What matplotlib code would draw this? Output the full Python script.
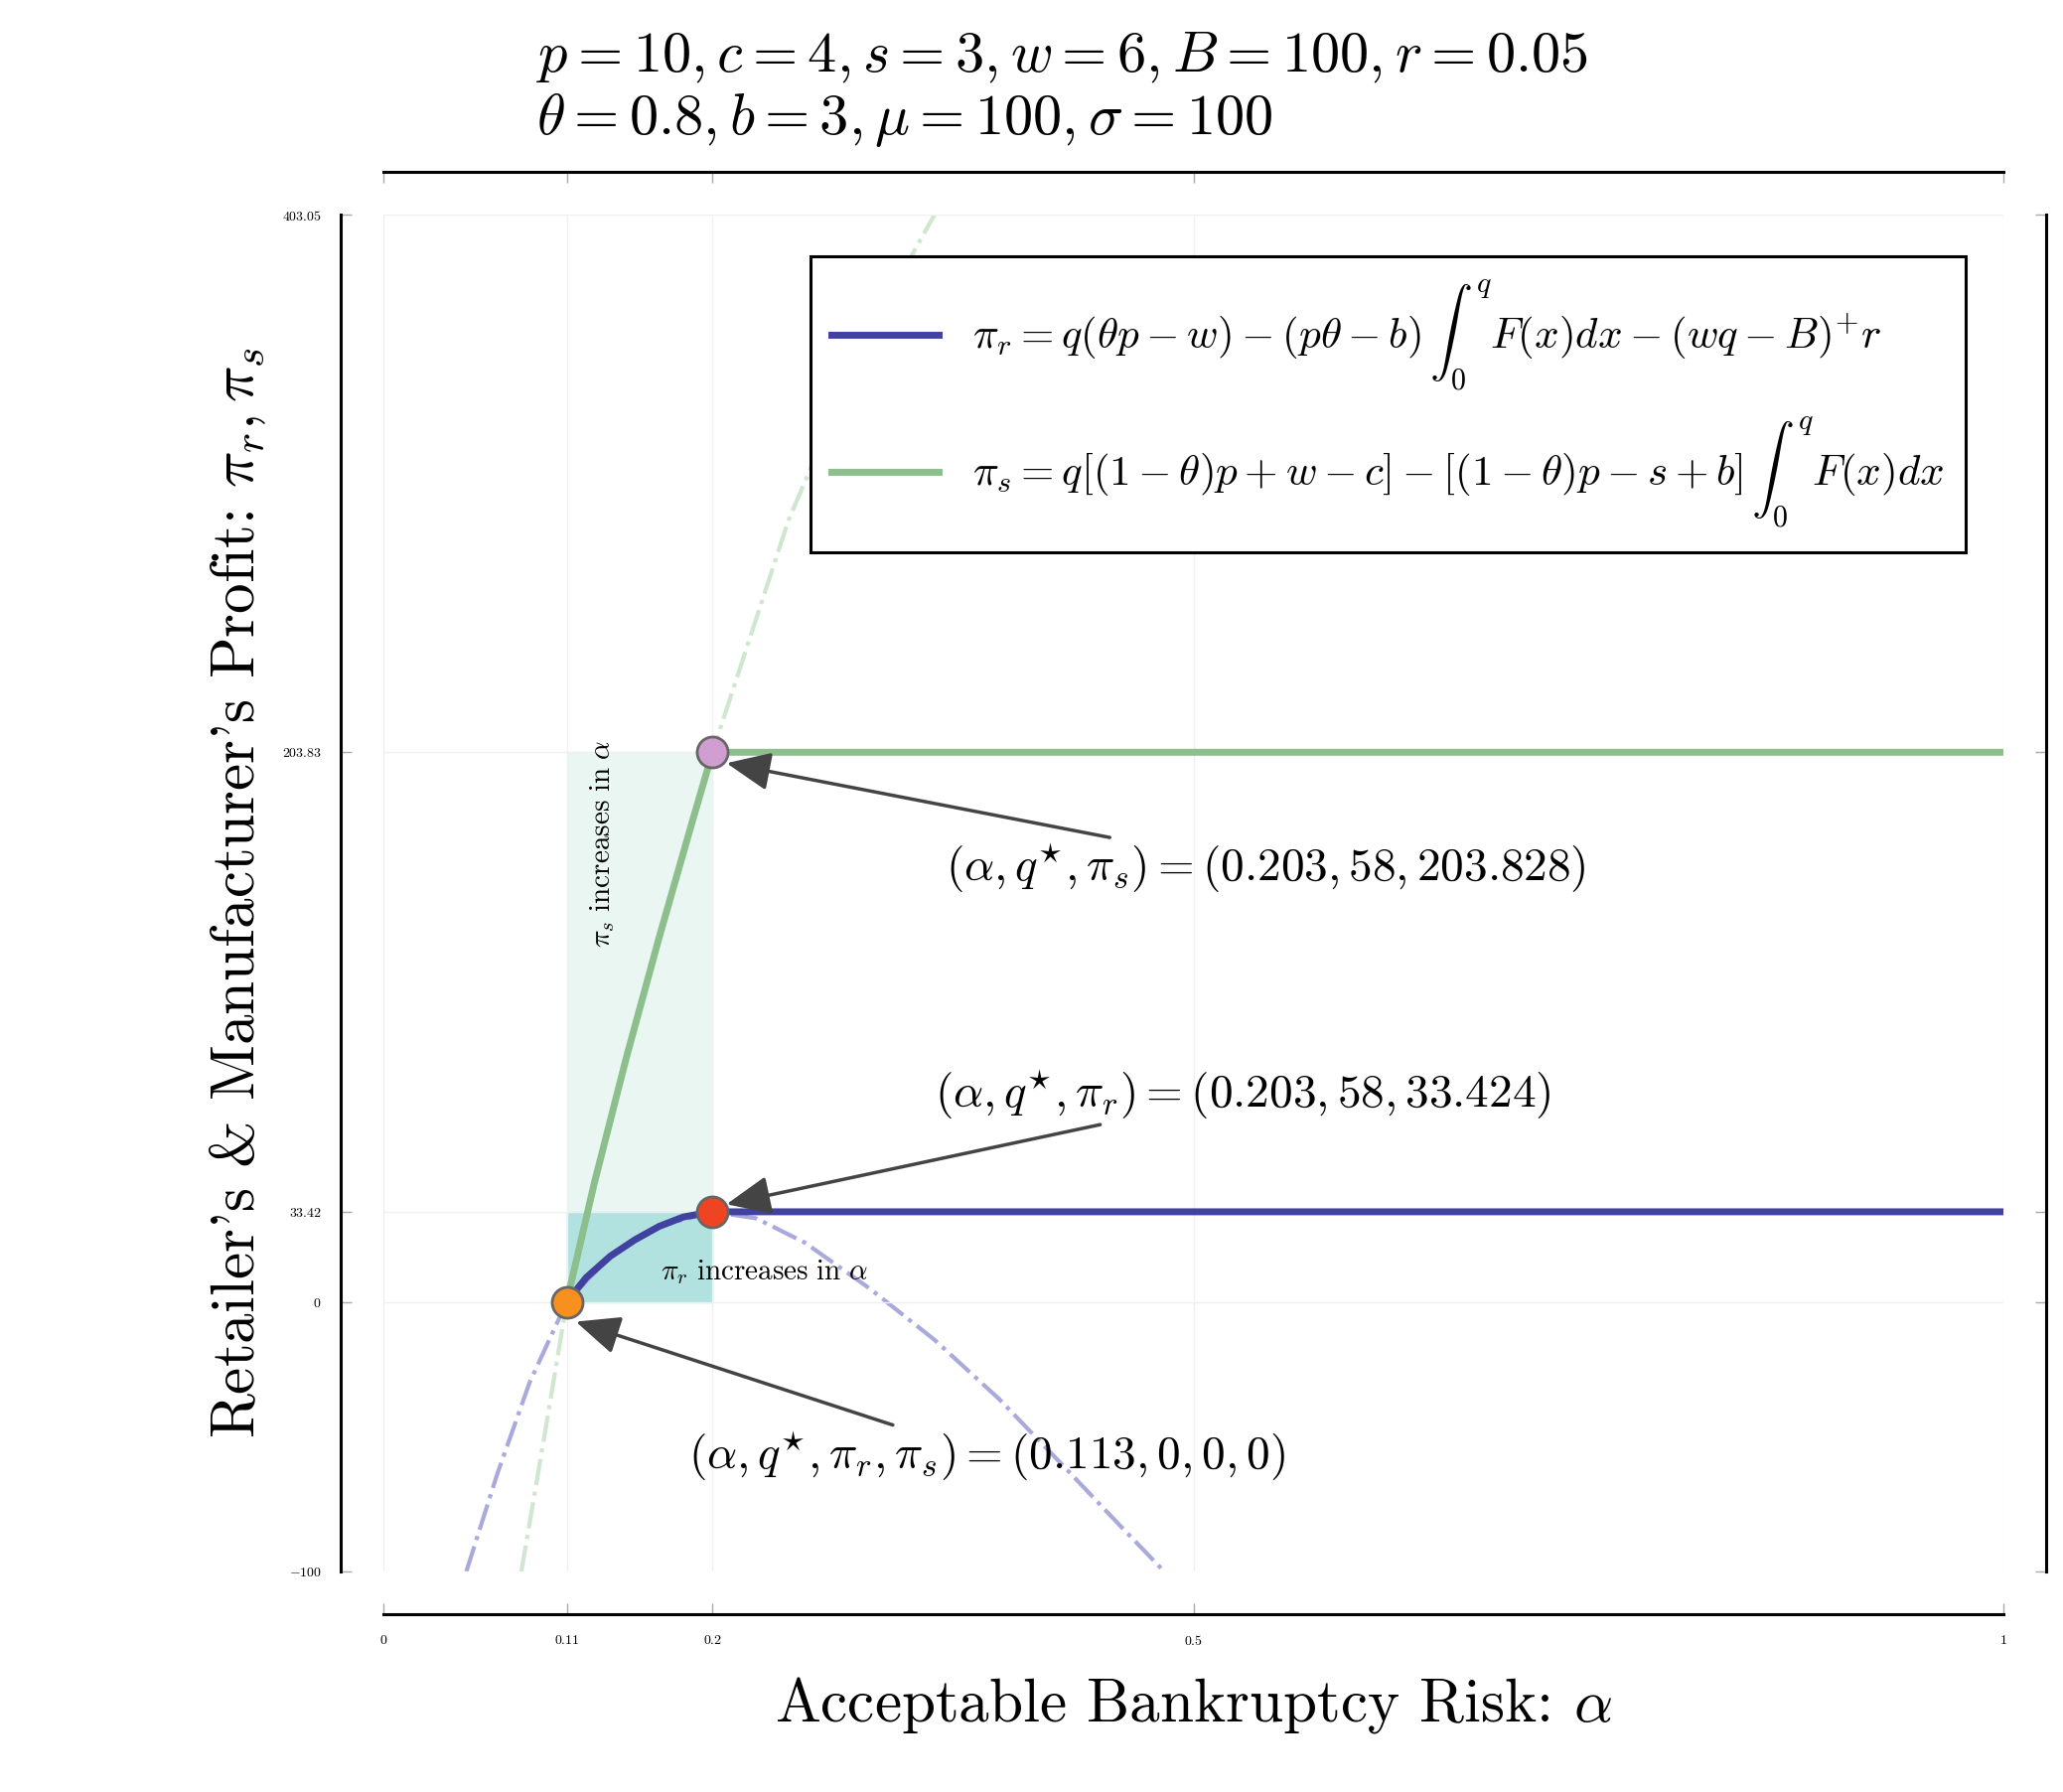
import matplotlib
matplotlib.use("Agg")
import matplotlib.pyplot as plt

plt.rcParams['mathtext.fontset'] = 'cm'
plt.rcParams['font.family'] = ['cmr10', 'DejaVu Serif']
plt.rcParams['axes.unicode_minus'] = False

# data
r_dash_x = [0.051, 0.07, 0.09, 0.113, 0.14, 0.17, 0.203, 0.23, 0.26, 0.30, 0.34, 0.38, 0.42, 0.45, 0.482]
r_dash_y = [-100, -64, -30, 0, 17, 28, 33.42, 31, 22, 5, -14, -36, -61, -80, -100]
r_solid_x = [0.113, 0.125, 0.14, 0.155, 0.17, 0.185, 0.203, 1.0]
r_solid_y = [0, 9, 17, 23, 28, 31.5, 33.42, 33.42]
s_dash_x = [0.085, 0.10, 0.113, 0.15, 0.203, 0.25, 0.30, 0.34]
s_dash_y = [-100, -47, 0, 91, 203.83, 290, 360, 403.05]
s_solid_x = [0.113, 0.13, 0.15, 0.17, 0.19, 0.203, 1.0]
s_solid_y = [0, 44, 91, 135, 177, 203.83, 203.83]
xticks = [0, 0.113, 0.203, 0.5, 1]
xticklabels = ['$0$', '$0.11$', '$0.2$', '$0.5$', '$1$']
yticks = [-100, 0, 33.42, 203.83, 403.05]
yticklabels = ['$-100$', '$0$', '$33.42$', '$203.83$', '$403.05$']
alpha0, alpha1 = 0.113, 0.203
pr_star, ps_star = 33.42, 203.83

blue = '#4141a0'
green = '#8cbf8c'

fig = plt.figure(figsize=(20.77, 18.04), dpi=100)
ax = fig.add_axes([0.186, 0.123, 0.785, 0.757])
ax.set_xlim(0, 1)
ax.set_ylim(-100, 403.05)

ax.fill_between([alpha0, alpha1], 0, ps_star, color='#eaf6f2', zorder=0)
ax.fill_between([alpha0, alpha1], 0, pr_star, color='#b2e2e0', zorder=0.5)

ax.plot(r_dash_x, r_dash_y, ls='-.', color='#a9a9dc', lw=3, zorder=1)
ax.plot(s_dash_x, s_dash_y, ls='-.', color='#cfe6cf', lw=3, zorder=1)
ax.plot(r_solid_x, r_solid_y, color=blue, lw=5, zorder=2,
        label=r'$\pi_r = q(\theta p - w) - (p\theta - b)\,\int_0^q F(x)dx - (wq-B)^{+}r$')
ax.plot(s_solid_x, s_solid_y, color=green, lw=5, zorder=2,
        label=r'$\pi_s = q[(1-\theta)p + w - c] - [(1-\theta)p - s + b]\,\int_0^q F(x)dx$')

ax.scatter([alpha0], [0], s=500, color='#f7901e', edgecolor='#666666', lw=2, zorder=5)
ax.scatter([alpha1], [pr_star], s=500, color='#ee4422', edgecolor='#666666', lw=2, zorder=5)
ax.scatter([alpha1], [ps_star], s=500, color='#d09ed0', edgecolor='#666666', lw=2, zorder=5)

ap = dict(arrowstyle='-|>,head_length=0.8,head_width=0.35', color='#444444', lw=2.5)
ax.annotate(r'$(\alpha, q^{\star}, \pi_s) = (0.203, 58, 203.828)$', xy=(0.21, 200), xytext=(0.347, 161),
            fontsize=34, va='center', ha='left', arrowprops=ap)
ax.annotate(r'$(\alpha, q^{\star}, \pi_r) = (0.203, 58, 33.424)$', xy=(0.21, 36), xytext=(0.34, 77),
            fontsize=34, va='center', ha='left', arrowprops=ap)
ax.annotate(r'$(\alpha, q^{\star}, \pi_r, \pi_s) = (0.113, 0, 0, 0)$', xy=(0.117, -7), xytext=(0.188, -57),
            fontsize=34, va='center', ha='left', arrowprops=ap)
ax.text(0.171, 11, r'$\pi_r\ \mathrm{increases\ in}\ \alpha$', fontsize=21, va='center', ha='left')
ax.text(0.135, 170, r'$\pi_s\ \mathrm{increases\ in}\ \alpha$', fontsize=21, va='center', ha='center', rotation=90)

ax.set_xticks(xticks)
ax.set_xticklabels(xticklabels, fontsize=44)
ax.set_yticks(yticks)
ax.set_yticklabels(yticklabels, fontsize=44)
ax.grid(True, color='#f0f0f0', lw=1)
ax.tick_params(direction='in', length=8, width=1, color='#aaaaaa', pad=14, top=True, right=True)
for side in ['left', 'bottom', 'top', 'right']:
    ax.spines[side].set_position(('outward', 31))
    ax.spines[side].set_linewidth(2.2)

ax.set_xlabel(r'Acceptable Bankruptcy Risk: $\alpha$', fontsize=44, labelpad=20)
ax.set_ylabel("Retailer's & Manufacturer's Profit: $\\pi_r, \\pi_s$", fontsize=44, labelpad=10)

leg = ax.legend(loc='upper right', bbox_to_anchor=(0.99, 0.985), fontsize=31, fancybox=False,
                edgecolor='black', framealpha=1, handlelength=2.5, borderpad=0.5)
leg.get_frame().set_linewidth(2.2)

fig.text(0.26, 0.968, r'$p = 10, c = 4, s = 3, w = 6, B = 100, r = 0.05$', fontsize=42, va='center', ha='left')
fig.text(0.26, 0.933, r'$\theta = 0.8, b = 3, \mu = 100, \sigma = 100$', fontsize=42, va='center', ha='left')

fig.savefig('out.png', dpi=100)
